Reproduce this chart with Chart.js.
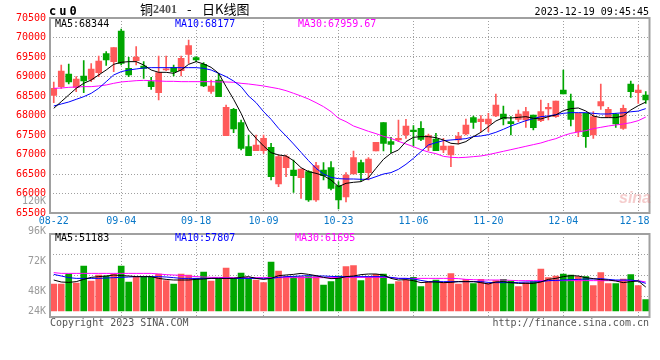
<!DOCTYPE html>
<html><head><meta charset="utf-8">
<script src="https://cdn.jsdelivr.net/npm/chart.js@4.4.0/dist/chart.umd.min.js"></script>
<style>
html,body{margin:0;padding:0;background:#fff;}
#wrap{position:relative;width:660px;height:360px;overflow:hidden;background:#fff;}
canvas{position:absolute;left:0;top:0;}
.t{position:absolute;font-family:"DejaVu Sans Mono",monospace;font-size:10px;line-height:10px;white-space:pre;z-index:5;}
.cj{font-family:'Noto Sans CJK SC',sans-serif;font-size:13px;line-height:14px;color:#000;top:2px;}
</style></head><body>
<div id="wrap">
<canvas id="main" width="660" height="360"></canvas>
<canvas id="vol" width="660" height="360"></canvas>
<div class="t" id="sym" style="left:49px;top:5px;font-size:12px;line-height:12px;font-weight:bold;letter-spacing:3px;color:#000">cu0</div>
<div class="t cj" style="left:140px">铜</div>
<div class="t" style="left:153px;top:3px;font-family:'Liberation Serif',serif;font-weight:bold;font-size:12px;line-height:12px;color:#555">2401</div>
<div class="t cj" style="left:187px">-</div>
<div class="t cj" style="left:202px">日K线图</div>
<div class="t" id="stamp" style="right:11px;top:6.5px;color:#000"></div>
<div class="t" id="m5" style="left:55px;top:18.5px;color:#000"></div>
<div class="t" id="m10" style="left:175px;top:18.5px;color:#0000ff"></div>
<div class="t" id="m30" style="left:298px;top:18.5px;color:#ff00ff"></div>
<div class="t" id="v5" style="left:55px;top:233px;color:#000"></div>
<div class="t" id="v10" style="left:175px;top:233px;color:#0000ff"></div>
<div class="t" id="v30" style="left:295px;top:233px;color:#ff00ff"></div>
<div class="t" style="left:50px;top:318px;color:#555">Copyright 2023 SINA.COM</div>
<div class="t" style="right:11px;top:318px;color:#555">http://finance.sina.com.cn</div>
<div class="t" style="left:619px;top:190px;font-family:'Liberation Sans',sans-serif;font-size:16px;line-height:16px;font-weight:bold;font-style:italic;color:rgba(225,110,110,0.35);z-index:1">sina</div>
</div>
<script>
const stampText = '2023-12-19 09:45:45';
const dates = ['08-22','08-23','08-24','08-25','08-28','08-29','08-30','08-31',
 '09-01','09-04','09-05','09-06','09-07','09-08','09-11','09-12','09-13','09-14','09-15',
 '09-18','09-19','09-20','09-21','09-22','09-25','09-26','09-27','09-28',
 '10-09','10-10','10-11','10-12','10-13','10-16','10-17','10-18','10-19','10-20',
 '10-23','10-24','10-25','10-26','10-27','10-30','10-31',
 '11-01','11-02','11-03','11-06','11-07','11-08','11-09','11-10','11-13','11-14','11-15','11-16','11-17',
 '11-20','11-21','11-22','11-23','11-24','11-27','11-28','11-29','11-30',
 '12-01','12-04','12-05','12-06','12-07','12-08','12-11','12-12','12-13','12-14','12-15','12-18','12-19'];
const tickLabels = ['08-22','09-04','09-18','10-09','10-23','11-06','11-20','12-04','12-18'];

const opens = [68517,68740,69064,68722,69013,68928,69099,69586,69381,70167,
 69210,69406,69270,68868,68586,69168,69227,69150,69569,69483,
 69312,68620,68911,67483,68159,67816,67201,67099,67099,67184,
 66244,66663,66603,66406,66560,65833,66603,66663,66201,65910,
 66500,66791,66535,67090,67816,67330,67372,67500,67628,67671,
 67184,67398,67116,66988,67372,67526,67945,67842,67782,67988,
 68039,67842,67902,67885,68013,67868,68167,67970,68654,68372,
 67586,68056,67500,68244,67953,68039,67671,68808,68586,68526];
const highs = [68859,69295,69321,68996,69406,69329,69526,69637,69740,70218,
 69492,69765,69381,68979,69526,69526,69295,69526,69936,69509,
 69355,68911,69082,68270,68184,67885,67500,67500,67500,67287,
 66988,66988,66859,66629,66586,66800,66791,66817,66304,66535,
 67090,66860,66920,67312,67816,67441,67885,67902,67740,67842,
 67526,67543,67415,67218,67569,67911,67988,67996,68056,68551,
 68244,67970,68141,68210,68013,68398,68312,68372,69167,68552,
 68056,68056,68099,68808,68210,68056,68270,68885,68782,68611];
const lows = [68329,68697,68808,68611,68586,68868,68996,69287,69124,69295,
 68996,69295,68953,68671,68398,69150,69013,69013,69338,69381,
 68740,68569,68483,67483,67560,67116,66970,67099,67030,66346,
 66176,66432,66030,65876,65800,65800,66346,66090,65603,65782,
 66500,66321,66346,67090,67090,67047,67330,67415,67219,67355,
 67099,67099,67047,66688,67270,67500,67671,67586,67586,67970,
 67757,67500,67842,67697,67628,67842,67885,67953,68552,67731,
 67458,67184,67415,68159,67953,67697,67646,68466,68312,68312];
const closes = [68697,69141,68859,68936,68885,69193,69398,69423,69740,69338,
 69039,69500,69210,68740,69099,69193,69124,69466,69791,69423,
 68757,68757,68483,68210,67654,67158,66970,67244,67415,66432,
 66945,66945,66458,66629,65833,66714,66458,66133,65833,66475,
 66919,66535,66885,67312,67287,67261,67415,67731,67586,67389,
 67483,67099,67218,67218,67475,67757,67825,67911,67911,68270,
 67911,67791,68039,68099,67688,68099,68210,68372,68552,67902,
 68056,67458,67970,68355,68159,67783,68184,68611,68654,68398];

const ma5 = [68184,68355,68526,68697,68825,68910,69039,69167,69312,69364,
 69381,69381,69295,69167,69107,69107,69082,69167,69312,69381,
 69321,69235,69082,68740,68415,68056,67629,67415,67218,67047,
 66988,66962,66842,66663,66560,66517,66458,66346,66175,66261,
 66287,66304,66406,66646,66877,67030,67116,67330,67440,67458,
 67458,67432,67372,67287,67270,67330,67458,67569,67714,67859,
 67945,67936,67953,67970,67928,67911,67970,68013,68124,68176,
 68193,68116,67988,67945,67945,67945,67988,68141,68252,68344];
const ma10 = [68244,68295,68346,68415,68483,68569,68697,68868,69039,69124,
 69167,69193,69218,69227,69227,69227,69227,69227,69227,69227,
 69210,69167,69082,68996,68885,68740,68500,68329,68099,67902,
 67671,67475,67270,67056,66842,66646,66500,66415,66381,66372,
 66372,66364,66364,66432,66500,66535,66620,66748,66902,67073,
 67244,67304,67355,67372,67389,67406,67458,67475,67509,67569,
 67646,67731,67800,67868,67919,67970,67988,68022,68056,68073,
 68073,68073,68056,68039,68039,68056,68070,68095,68113,68177];
const ma30 = [68697,68705,68722,68731,68740,68740,68757,68783,68825,68860,
 68876,68893,68902,68893,68885,68876,68876,68868,68868,68868,
 68868,68868,68860,68860,68851,68825,68808,68783,68757,68722,
 68688,68637,68569,68500,68423,68329,68227,68099,67928,67842,
 67731,67663,67594,67535,67466,67415,67338,67270,67201,67124,
 67064,67022,66953,66928,66919,66928,66945,66962,66996,67039,
 67082,67124,67167,67210,67253,67295,67355,67406,67483,67543,
 67577,67611,67663,67697,67731,67757,67783,67816,67868,67959.67];

const volumes = [53600,53600,61600,54400,68000,56000,60800,60000,61600,68000,
 55200,59500,59500,58900,61600,56300,53600,61600,60800,58100,
 63200,56000,58100,66400,58100,62400,58100,56800,54700,71200,
 64000,59500,59500,59500,59500,59500,52800,55500,60000,67500,
 68300,56300,59500,61300,61600,53600,55500,56800,58900,51500,
 55500,56800,54700,61900,53600,57300,53900,57300,54100,56300,
 57300,56000,51500,54700,55500,65600,58700,60000,61600,60800,
 59500,59500,52300,62700,53900,53900,57600,61100,52300,41100];
const volMa5 = [56800,55200,54900,55500,57300,58900,59500,60000,60800,60300,
 60000,59500,59500,59500,58100,57300,56800,56800,56800,57300,
 57600,58100,58100,58100,58100,58900,59500,58100,57300,58100,
 60300,60800,61300,62100,61300,60300,58900,57900,58100,59500,
 60000,61100,61600,61600,60800,58100,56800,57100,56300,54700,
 55200,55200,54700,54900,55500,55500,55500,54700,53600,55200,
 55500,54700,54100,54100,54100,55200,57300,58100,59500,60300,
 60000,58700,57900,57100,56800,56000,54700,55500,56000,51183];
const volMa10 = [61300,60000,58700,58100,58100,58100,58100,58400,58700,58900,
 59200,59500,59500,59500,59500,59200,58700,58100,58100,58100,
 58100,58100,58100,58100,58100,58100,58100,58100,58100,58100,
 58900,59500,59700,60000,60300,60000,60000,59700,59500,59500,
 59500,59500,59500,59500,59500,58900,58100,58100,57600,56500,
 55500,55500,55500,55500,55500,55500,55500,55500,54900,54700,
 54700,54700,54900,55200,55200,55500,56300,56500,56800,57100,
 57300,57600,57600,57900,57300,56800,56800,56800,56000,54100];
const volMa30 = [62700,62100,62100,62100,62100,62100,62100,62100,62100,62100,
 62100,62100,62100,62100,61600,61100,60800,60500,60000,59500,
 59200,58900,58900,58700,58700,58700,58700,58700,58700,58700,
 58700,58700,58700,58700,58700,58700,58700,58700,58900,58900,
 58900,58900,58900,58900,58900,58700,58100,58100,58100,58100,
 58100,58100,58100,58100,57900,57300,57100,56800,56800,56800,
 56800,56500,56300,56300,56300,56300,56300,56300,56300,56300,
 56300,56300,56300,56300,56300,56300,56300,56300,56300,55200];
const volLegendValues = [51183, 57807, 61695];
const volTickValues = [120000, 96000, 72000, 48000, 24000];
const volTickLabels = ['120K', '96K', '72K', '48K', '24K'];

// ---- text
document.getElementById('stamp').textContent = stampText;
document.getElementById('m5').textContent = 'MA5:' + ma5[ma5.length-1];
document.getElementById('m10').textContent = 'MA10:' + ma10[ma10.length-1];
document.getElementById('m30').textContent = 'MA30:' + ma30[ma30.length-1];
document.getElementById('v5').textContent = 'MA5:' + volLegendValues[0];
document.getElementById('v10').textContent = 'MA10:' + volLegendValues[1];
document.getElementById('v30').textContent = 'MA30:' + volLegendValues[2];

const UP = '#ff5a5a', DOWN = '#00a600';
const candleColors = closes.map((c, i) => c >= opens[i] ? UP : DOWN);
const gridIdx = new Set(tickLabels.map(l => dates.indexOf(l)));
const MONO = '"DejaVu Sans Mono", monospace';
const gridColor = ctx => (gridIdx.has(ctx.index) && ctx.index > 0) ? '#a0a0a0' : 'rgba(0,0,0,0)';

const framePlugin = {
  id: 'frame',
  afterDraw(chart) {
    const {ctx, chartArea: a} = chart;
    ctx.save();
    ctx.strokeStyle = '#a0a0a0';
    ctx.lineWidth = 2;
    ctx.strokeRect(a.left, a.top, a.right - a.left, a.bottom - a.top);
    ctx.restore();
  }
};
const dateLabelPlugin = {
  id: 'dateLabels',
  afterDraw(chart) {
    const {ctx, chartArea: a} = chart;
    const xs = chart.scales.x;
    ctx.save();
    ctx.font = '10px ' + MONO;
    ctx.fillStyle = '#0a78c8';
    ctx.textAlign = 'center';
    ctx.textBaseline = 'middle';
    tickLabels.forEach(lbl => {
      const i = dates.indexOf(lbl);
      const w = ctx.measureText(lbl).width;
      let x = xs.getPixelForValue(i);
      x = Math.min(x, a.right - w / 2);
      ctx.fillText(lbl, x, a.bottom + 8.5);
    });
    ctx.restore();
  }
};
const volLabelPlugin = {
  id: 'volLabels',
  afterDraw(chart) {
    const {ctx} = chart;
    const ys = chart.scales.y;
    const basePx = ys.getPixelForValue(chart.data.datasets[3].base);
    ctx.save();
    ctx.font = '10px ' + MONO;
    ctx.fillStyle = '#9a9a9a';
    ctx.textAlign = 'right';
    ctx.textBaseline = 'middle';
    volTickValues.forEach((v, k) => {
      const y = Math.min(ys.getPixelForValue(v), basePx);
      ctx.fillText(volTickLabels[k], 46, y);
    });
    ctx.restore();
  }
};

const lineDs = (data, color) => ({type: 'line', data, borderColor: color, borderWidth: 1,
  pointRadius: 0, tension: 0, fill: false, order: 0});

new Chart(document.getElementById('main'), {
  type: 'bar',
  data: {
    labels: dates,
    datasets: [
      lineDs(ma5, '#000000'),
      lineDs(ma10, '#0000ff'),
      lineDs(ma30, '#ff00ff'),
      {type: 'bar', data: opens.map((o, i) => [o, closes[i]]), backgroundColor: candleColors,
        barThickness: 6, grouped: false, minBarLength: 1, borderWidth: 0, order: 1},
      {type: 'bar', data: lows.map((l, i) => [l, highs[i]]), backgroundColor: candleColors,
        barThickness: 1, grouped: false, borderWidth: 0, order: 2}
    ]
  },
  options: {
    responsive: false, animation: false, devicePixelRatio: 1,
    layout: {padding: {left: 0, right: 10.5, top: 18, bottom: 0}},
    plugins: {legend: {display: false}, tooltip: {enabled: false}},
    scales: {
      x: {
        offset: true,
        grid: {offset: false, drawTicks: false, color: gridColor},
        border: {display: false, dash: [1, 2]},
        ticks: {display: false, autoSkip: false},
        afterFit: s => { s.height = 147; }
      },
      y: {
        min: 65500, max: 70500,
        grid: {drawTicks: false, color: '#a0a0a0'},
        border: {display: false, dash: [1, 2]},
        ticks: {stepSize: 500, color: '#ff0000', padding: 4, font: {family: MONO, size: 10},
          callback: v => String(v)},
        afterFit: s => { s.width = 50; }
      }
    }
  },
  plugins: [framePlugin, dateLabelPlugin]
});

new Chart(document.getElementById('vol'), {
  type: 'bar',
  data: {
    labels: dates,
    datasets: [
      lineDs(volMa5, '#000000'),
      lineDs(volMa10, '#0000ff'),
      lineDs(volMa30, '#ff00ff'),
      {type: 'bar', data: volumes, backgroundColor: candleColors, barThickness: 6,
        base: 32000, borderWidth: 0, order: 1}
    ]
  },
  options: {
    responsive: false, animation: false, devicePixelRatio: 1,
    layout: {padding: {left: 0, right: 10.5, top: 234, bottom: 43}},
    plugins: {legend: {display: false}, tooltip: {enabled: false}},
    scales: {
      x: {
        offset: true,
        grid: {offset: false, drawTicks: false, color: gridColor},
        border: {display: false, dash: [1, 2]},
        ticks: {display: false, autoSkip: false},
        afterFit: s => { s.height = 0; }
      },
      y: {
        min: 27200, max: 93600,
        grid: {drawTicks: false, color: '#a0a0a0'},
        border: {display: false, dash: [1, 2]},
        ticks: {display: false},
        afterBuildTicks: s => {
          s.ticks = [0, 1, 2, 3, 4].map(k => ({value: s.min + k * (s.max - s.min) / 4}));
        },
        afterFit: s => { s.width = 50; }
      }
    }
  },
  plugins: [framePlugin, volLabelPlugin]
});
</script>
</body></html>
